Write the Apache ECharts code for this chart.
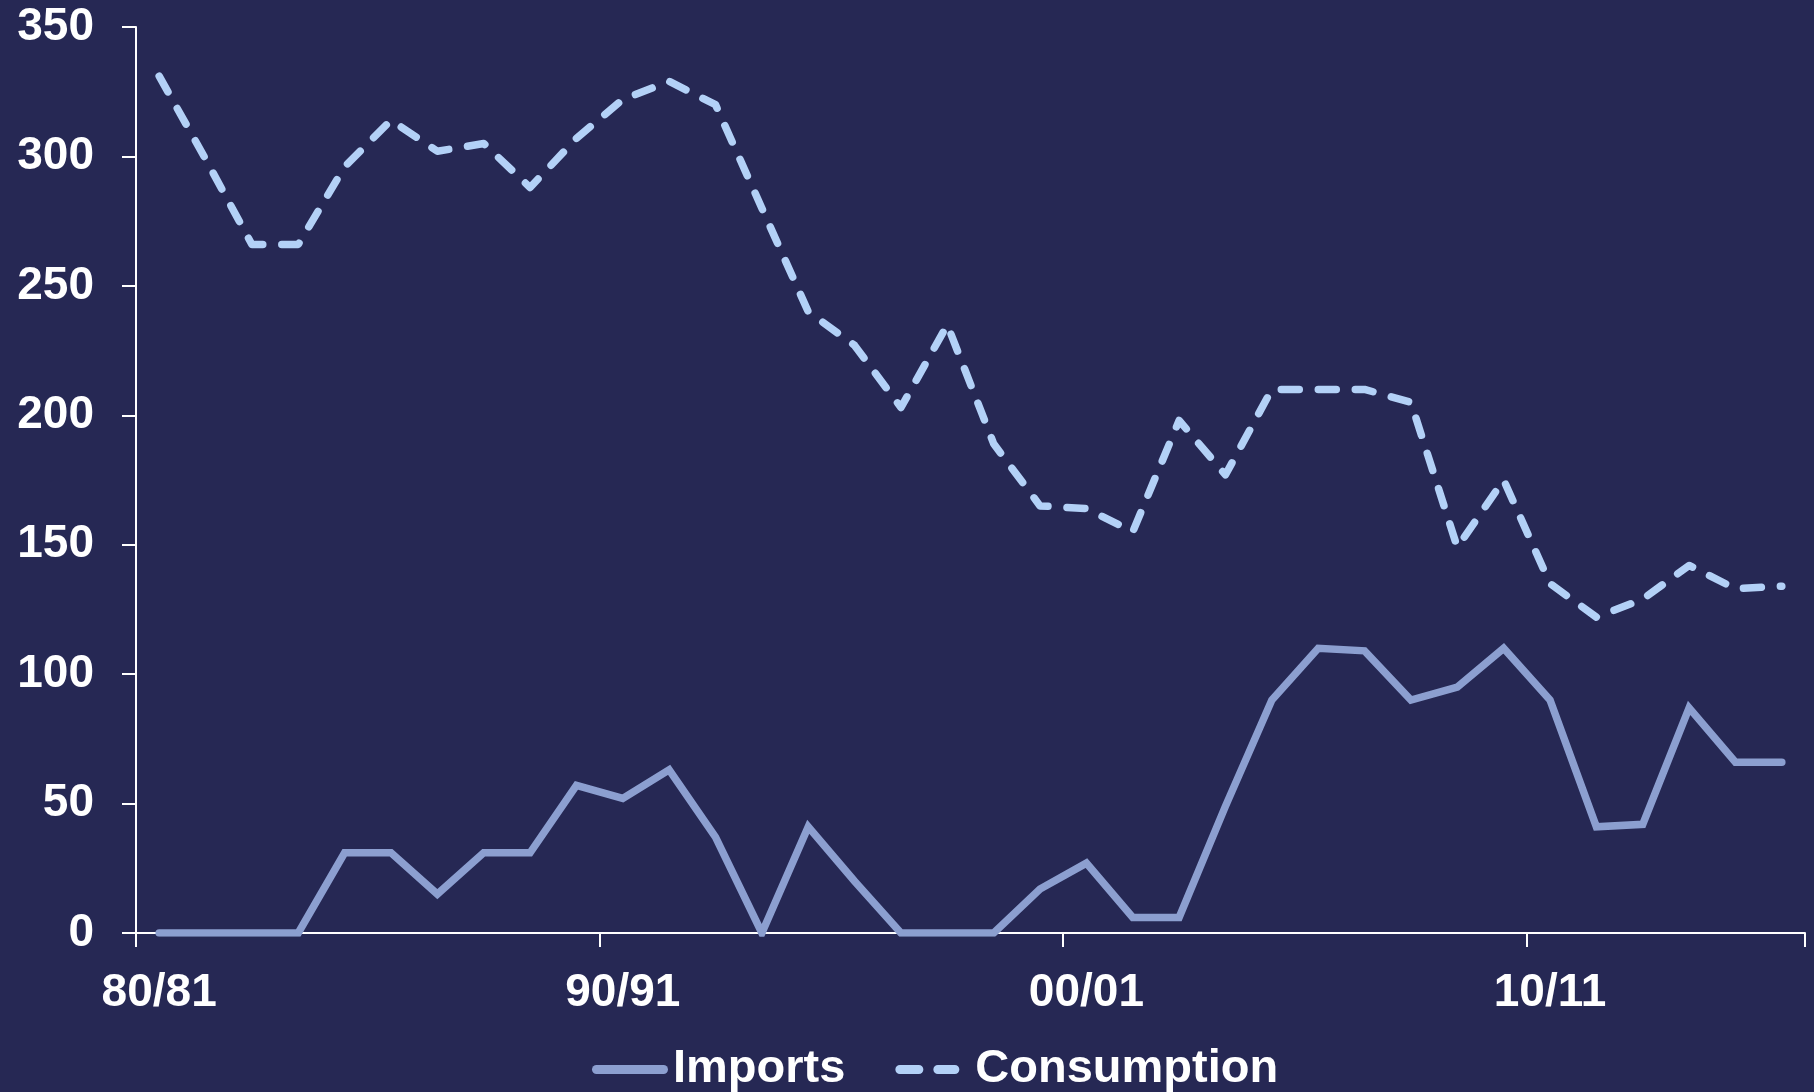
<!DOCTYPE html>
<html>
<head>
<meta charset="utf-8">
<script src="https://cdn.jsdelivr.net/npm/echarts@6/dist/echarts.min.js"></script>
<style>
html,body{margin:0;padding:0;background:#262854;}
#chart{width:1814px;height:1092px;}
</style>
</head>
<body>
<div id="chart"></div>
<script>
const categories = ['80/81','81/82','82/83','83/84','84/85','85/86','86/87','87/88','88/89','89/90',
  '90/91','91/92','92/93','93/94','94/95','95/96','96/97','97/98','98/99','99/00',
  '00/01','01/02','02/03','03/04','04/05','05/06','06/07','07/08','08/09','09/10',
  '10/11','11/12','12/13','13/14','14/15','15/16'];
const imports = [0,0,0,0,31,31,15,31,31,57,52,63,37,0,41,20,0,0,0,17,27,6,6,49,90,110,109,90,95,110,90,41,42,87,66,66];
const consumption = [331,299,266,266,296,314,302,305,288,307,322,329,320,280,240,227,203,235,189,165,164,155,198,177,210,210,210,205,149,175,135,122,129,142,133,134];
const yTicks = {min: 0, max: 350, interval: 50};

const FONT = '"Liberation Sans", Arial, sans-serif';
const C_IMP = '#8C9FD0';
const C_CON = '#B3D1F7';
const ICON_SOLID = 'path://M4.5,0H71.5A4.5,4.5,0,0,1,71.5,9H4.5A4.5,4.5,0,0,1,4.5,0Z';
const ICON_DASH = 'path://M5.5,0H24.5A4.5,4.5,0,0,1,24.5,9H5.5A4.5,4.5,0,0,1,5.5,0Z' +
  'M43.5,0H60.5A4.5,4.5,0,0,1,60.5,9H43.5A4.5,4.5,0,0,1,43.5,0Z' +
  'M0,4.45H0.05V4.55H0Z M75.95,4.45H76V4.55H75.95Z';

const chart = echarts.init(document.getElementById('chart'), null, {renderer: 'canvas'});
chart.setOption({
  backgroundColor: '#262854',
  animation: false,
  grid: {left: 136, right: 9, top: 27, bottom: 159, containLabel: false},
  legend: {
    left: 592, top: 1046, padding: 0,
    itemWidth: 76, itemHeight: 9, itemGap: 49,
    textStyle: {color: '#ffffff', fontSize: 47, fontWeight: 'bold', fontFamily: FONT},
    data: [
      {name: 'Imports', icon: ICON_SOLID, itemStyle: {color: C_IMP}},
      {name: 'Consumption', icon: ICON_DASH, itemStyle: {color: C_CON}}
    ]
  },
  xAxis: {
    type: 'category',
    data: categories,
    boundaryGap: true,
    axisLine: {show: true, lineStyle: {color: '#ffffff', width: 2}},
    axisTick: {show: true, interval: 9, length: 14, lineStyle: {color: '#ffffff', width: 2}},
    axisLabel: {interval: 9, margin: 37, color: '#ffffff', fontSize: 46, fontWeight: 'bold', fontFamily: FONT},
    splitLine: {show: false}
  },
  yAxis: {
    type: 'value',
    min: yTicks.min, max: yTicks.max, interval: yTicks.interval,
    axisLine: {show: true, lineStyle: {color: '#ffffff', width: 2}},
    axisTick: {show: true, length: 14, lineStyle: {color: '#ffffff', width: 2}},
    axisLabel: {margin: 42, color: '#ffffff', fontSize: 46, fontWeight: 'bold', fontFamily: FONT},
    splitLine: {show: false}
  },
  series: [
    {
      name: 'Imports', type: 'line', data: imports,
      symbol: 'none', showSymbol: false,
      lineStyle: {color: C_IMP, width: 7.5, cap: 'round', join: 'miter'},
      itemStyle: {color: C_IMP}
    },
    {
      name: 'Consumption', type: 'line', data: consumption,
      symbol: 'none', showSymbol: false,
      lineStyle: {color: C_CON, width: 7.5, type: [18, 19], cap: 'round', join: 'round'},
      itemStyle: {color: C_CON}
    }
  ]
});
</script>
</body>
</html>
